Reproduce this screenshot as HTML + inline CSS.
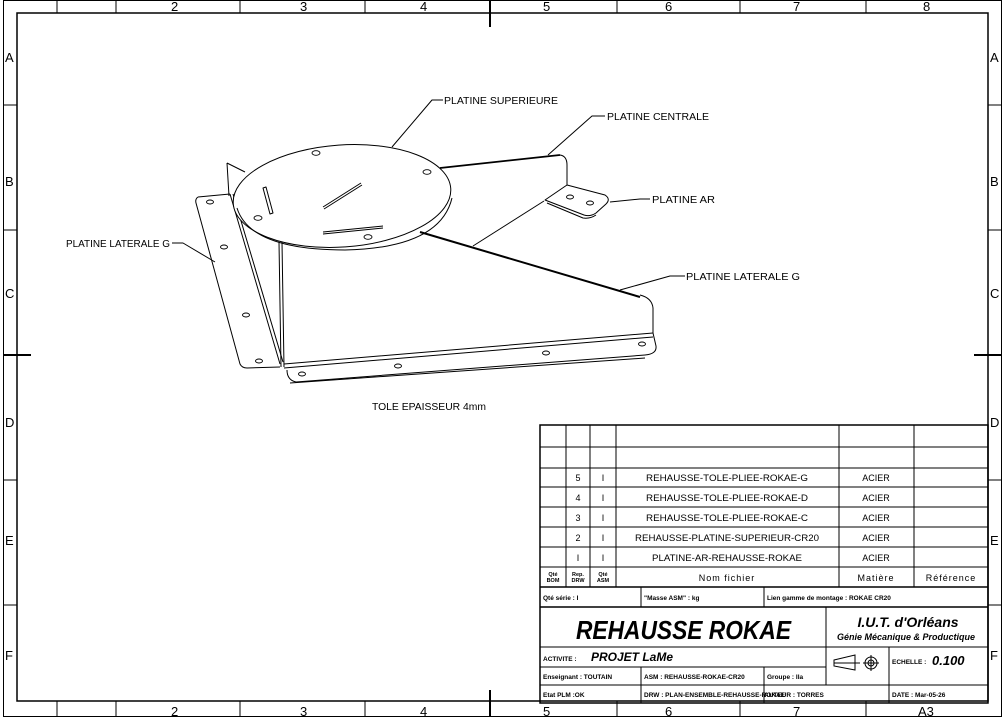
<!DOCTYPE html>
<html><head><meta charset="utf-8"><style>
html,body{margin:0;padding:0;background:#fff}
svg{display:block}
text{font-family:"Liberation Sans",sans-serif;fill:#000}
</style></head><body>
<svg width="1005" height="722" viewBox="0 0 1005 722" xmlns="http://www.w3.org/2000/svg">
<g fill="none" stroke="#000" stroke-width="1">
<rect x="3.5" y="0.5" width="998" height="716"/>
<rect x="17" y="13" width="971" height="688" stroke-width="1.5"/>
<path d="M57 0V13M116 0V13M240 0V13M365 0V13M617 0V13M740 0V13M866 0V13"/>
<path d="M490 0V27" stroke-width="2"/>
<path d="M57 701V716M116 701V716M240 701V716M365 701V716M617 701V716M740 701V716M866 701V716"/>
<path d="M490 690V716" stroke-width="2"/>
<path d="M3 105H17M3 230H17M3 480H17M3 605H17M988 105H1002M988 230H1002M988 480H1002M988 605H1002"/>
<path d="M3 355H31M974 355H1002" stroke-width="2"/>
</g>
<g font-size="13">
<text x="171" y="11">2</text><text x="300" y="11">3</text><text x="420" y="11">4</text><text x="543" y="11">5</text><text x="665" y="11">6</text><text x="793" y="11">7</text><text x="923" y="11">8</text>
<text x="171" y="716">2</text><text x="300" y="716">3</text><text x="420" y="716">4</text><text x="543" y="716">5</text><text x="665" y="716">6</text><text x="793" y="716">7</text><text x="918" y="716">A3</text>
<text x="5" y="62">A</text><text x="5" y="186">B</text><text x="5" y="298">C</text><text x="5" y="427">D</text><text x="5" y="545">E</text><text x="5" y="660">F</text>
<text x="990" y="62">A</text><text x="990" y="186">B</text><text x="990" y="298">C</text><text x="990" y="427">D</text><text x="990" y="545">E</text><text x="990" y="660">F</text>
</g>

<g fill="none" stroke="#000" stroke-width="1" stroke-linejoin="round">
<path d="M198 197 L230 194 M198 197 Q195 199 196 203 L240 364 Q242 368 247 368 L280 367"/>
<path d="M230 194 L280 364 M233 194 L283 362"/>
<path d="M227 163 L229 196 M227 163 L245 172"/>
<path d="M279 242 L281 367 M282 242 L284 367"/>
<path d="M284 364 L653 333 M284 368 L653 337"/>
<path d="M287 370 Q287 380 296 382 L645 355 Q657 354 656 346 L653 333"/>
<path d="M290 383 L645 358"/>
<path d="M653 333 L653 308 Q652 298 640 295" />
<path d="M420 232 L640 297" stroke-width="2"/>
<path d="M440 168 L560 155" stroke-width="1.8"/>
<path d="M560 155 Q567 156 567 165 L567 185"/>
<path d="M544 201 L473 246"/>
<path d="M545 200 L567 185 L605 195 Q611 199 606 204 L596 213 Q590 217 584 215 Z"/>
<path d="M547 203 L583 218 Q590 219 596 215"/>
<ellipse cx="342" cy="196" rx="109" ry="51" transform="rotate(-4 342 196)" fill="#fff"/>
<path d="M237 208 Q250 250 345 250 Q440 248 452 198"/>
<path d="M263 188 L270 214 L273 213 L266 187 Z"/>
<path d="M323 207 L361 183 M324 209 L362 185"/>
<path d="M323 232 L383 226 M323 234 L383 228"/>
<g stroke-width="0.9">
<ellipse cx="316" cy="153" rx="4" ry="2.3"/><ellipse cx="427" cy="172" rx="4" ry="2.3"/>
<ellipse cx="258" cy="218" rx="4" ry="2.3"/><ellipse cx="368" cy="237" rx="4" ry="2.3"/>
<ellipse cx="210" cy="202" rx="3.5" ry="2"/><ellipse cx="224" cy="247" rx="3.5" ry="2"/>
<ellipse cx="246" cy="315" rx="3.5" ry="2"/><ellipse cx="259" cy="361" rx="3.5" ry="2"/>
<ellipse cx="302" cy="374" rx="3.5" ry="2"/><ellipse cx="398" cy="366" rx="3.5" ry="2"/>
<ellipse cx="546" cy="353" rx="3.5" ry="2"/><ellipse cx="642" cy="344" rx="3.5" ry="2"/>
<ellipse cx="570" cy="197" rx="3.5" ry="2"/><ellipse cx="590" cy="203" rx="3.5" ry="2"/>
</g>
<path d="M392 147 L432 100 H443"/>
<path d="M548 155 L592 116 H605"/>
<path d="M610 202 L640 199 H650"/>
<path d="M172 243 H183 L215 262"/>
<path d="M620 290 L670 276 H685"/>
</g>
<g font-size="10">
<text x="444" y="104" textLength="114" lengthAdjust="spacingAndGlyphs">PLATINE SUPERIEURE</text>
<text x="607" y="120" textLength="102" lengthAdjust="spacingAndGlyphs">PLATINE CENTRALE</text>
<text x="652" y="203" textLength="63" lengthAdjust="spacingAndGlyphs">PLATINE AR</text>
<text x="66" y="247" textLength="104" lengthAdjust="spacingAndGlyphs">PLATINE LATERALE G</text>
<text x="686" y="280" textLength="114" lengthAdjust="spacingAndGlyphs">PLATINE LATERALE G</text>
<text x="372" y="410" textLength="114" lengthAdjust="spacingAndGlyphs">TOLE EPAISSEUR 4mm</text>
</g>

<g fill="none" stroke="#000" stroke-width="1">
<rect x="540" y="425" width="448" height="278" stroke-width="1.5"/>
<path d="M540 447H988M540 468H988M540 487H988M540 507H988M540 527H988M540 547H988M540 567H988M540 647H988M540 667H826M540 685H826M826 685H988"/>
<path d="M540 587H988M540 607H988" stroke-width="1.5"/>
<path d="M566 425V587M590 425V587M616 425V587M839 425V587M914 425V587"/>
<path d="M641 587V607M764 587V607M826 607V685M889 647V703M641 667V703M764 667V703"/>
</g>
<g font-size="9" text-anchor="middle">
<text x="578" y="481">5</text><text x="603" y="481">I</text><text x="727" y="481" textLength="162" lengthAdjust="spacingAndGlyphs">REHAUSSE-TOLE-PLIEE-ROKAE-G</text><text x="876" y="481">ACIER</text>
<text x="578" y="501">4</text><text x="603" y="501">I</text><text x="727" y="501" textLength="162" lengthAdjust="spacingAndGlyphs">REHAUSSE-TOLE-PLIEE-ROKAE-D</text><text x="876" y="501">ACIER</text>
<text x="578" y="521">3</text><text x="603" y="521">I</text><text x="727" y="521" textLength="162" lengthAdjust="spacingAndGlyphs">REHAUSSE-TOLE-PLIEE-ROKAE-C</text><text x="876" y="521">ACIER</text>
<text x="578" y="541">2</text><text x="603" y="541">I</text><text x="727" y="541" textLength="184" lengthAdjust="spacingAndGlyphs">REHAUSSE-PLATINE-SUPERIEUR-CR20</text><text x="876" y="541">ACIER</text>
<text x="578" y="561">I</text><text x="603" y="561">I</text><text x="727" y="561" textLength="150" lengthAdjust="spacingAndGlyphs">PLATINE-AR-REHAUSSE-ROKAE</text><text x="876" y="561">ACIER</text>
<text x="727" y="581" letter-spacing="1">Nom fichier</text><text x="876" y="581" letter-spacing="1">Matière</text><text x="951" y="581" letter-spacing="1">Référence</text>
</g>
<g font-size="5.5" font-weight="bold" text-anchor="middle">
<text x="553" y="576">Qté</text><text x="553" y="582">BOM</text>
<text x="578" y="576">Rep.</text><text x="578" y="582">DRW</text>
<text x="603" y="576">Qté</text><text x="603" y="582">ASM</text>
</g>
<g font-size="6.5" font-weight="bold">
<text x="543" y="600">Qté série : I</text>
<text x="644" y="600">"Masse ASM" :   kg</text>
<text x="767" y="600">Lien gamme de montage : ROKAE CR20</text>
<text x="543" y="661">ACTIVITE :</text>
<text x="543" y="679">Enseignant : TOUTAIN</text>
<text x="644" y="679">ASM : REHAUSSE-ROKAE-CR20</text>
<text x="767" y="679">Groupe : IIa</text>
<text x="543" y="697">Etat PLM :OK</text>
<text x="644" y="697">DRW : PLAN-ENSEMBLE-REHAUSSE-ROKAE</text>
<text x="764" y="697">AUTEUR : TORRES</text>
<text x="892" y="664">ECHELLE :</text>
<text x="892" y="697">DATE : Mar-05-26</text>
</g>
<text x="576" y="639" font-size="26" font-style="italic" font-weight="bold" textLength="215" lengthAdjust="spacingAndGlyphs">REHAUSSE  ROKAE</text>
<text x="908" y="627" font-size="14" font-style="italic" font-weight="bold" text-anchor="middle">I.U.T.  d'Orléans</text>
<text x="906" y="640" font-size="9" font-style="italic" font-weight="bold" text-anchor="middle">Génie Mécanique &amp; Productique</text>
<text x="591" y="661" font-size="12" font-style="italic" font-weight="bold">PROJET  LaMe</text>
<text x="932" y="665" font-size="13" font-style="italic" font-weight="bold">0.100</text>
<g fill="none" stroke="#000" stroke-width="1">
<path d="M834 660 L855 655 L855 670 L834 666 Z M834 663H860"/>
<circle cx="871" cy="663" r="6"/><circle cx="871" cy="663" r="3"/><path d="M863 663H879M871 655V671"/>
</g>
</svg>
</body></html>
